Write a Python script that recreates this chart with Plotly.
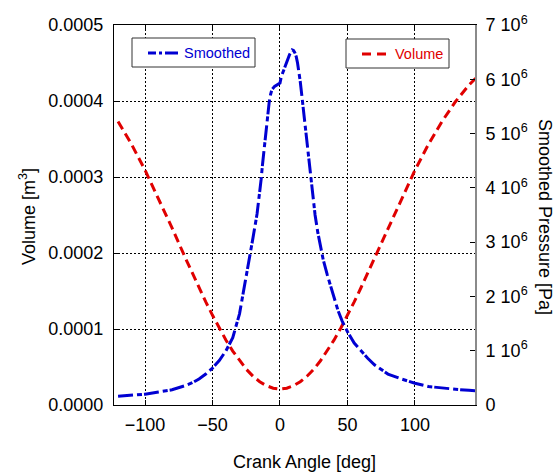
import plotly.graph_objects as go

# Crank angle grid [deg] and cylinder volume [m^3]
angle_vol = [-120, -110, -100, -90, -80, -70, -60, -55, -50, -45, -40, -35, -30, -25,
             -20, -15, -10, -5, 0, 5, 10, 15, 20, 25, 30, 35, 40, 45, 50, 55, 60,
             70, 80, 90, 100, 110, 120, 130, 140, 145]
volume = [3.73e-4, 3.43e-4, 3.09e-4, 2.72e-4, 2.33e-4, 1.93e-4, 1.54e-4, 1.357e-4,
          1.18e-4, 1.01e-4, 8.53e-5, 7.10e-5, 5.82e-5, 4.71e-5, 3.79e-5, 3.06e-5,
          2.53e-5, 2.21e-5, 2.10e-5, 2.21e-5, 2.53e-5, 3.06e-5, 3.79e-5, 4.71e-5,
          5.82e-5, 7.10e-5, 8.53e-5, 1.01e-4, 1.178e-4, 1.357e-4, 1.543e-4,
          1.932e-4, 2.33e-4, 2.72e-4, 3.09e-4, 3.43e-4, 3.73e-4, 3.99e-4, 4.21e-4,
          4.30e-4]

# Smoothed cylinder pressure [Pa]
angle_p = [-120, -110, -100, -90, -80, -70, -65, -60, -55, -50, -45, -40, -35, -30,
           -27, -25, -22, -20, -17, -15, -14, -13, -12, -11, -10, -9, -8, -7, -6,
           -4, -2, 0, 1, 3, 5, 7, 9, 10, 11, 12, 13, 14, 15, 16, 17, 18, 19, 20,
           22, 24, 26, 28, 30, 32, 35, 38, 40, 43, 46, 50, 55, 60, 65, 70, 75, 80,
           90, 100, 110, 120, 130, 140, 145]
pressure_mpa = [0.16, 0.18, 0.20, 0.24, 0.28, 0.36, 0.41, 0.48, 0.57, 0.68, 0.82,
                1.00, 1.24, 1.68, 2.08, 2.35, 2.75, 3.08, 3.52, 3.90, 4.15, 4.42,
                4.68, 4.92, 5.17, 5.40, 5.58, 5.72, 5.81, 5.87, 5.90, 5.93, 6.05,
                6.18, 6.32, 6.45, 6.54, 6.53, 6.49, 6.42, 6.30, 6.15, 5.96, 5.74,
                5.52, 5.30, 5.07, 4.86, 4.38, 3.92, 3.50, 3.18, 2.92, 2.68, 2.40,
                2.16, 1.98, 1.74, 1.55, 1.35, 1.14, 0.99, 0.86, 0.74, 0.65, 0.57,
                0.48, 0.40, 0.34, 0.31, 0.29, 0.27, 0.26]
pressure = [p * 1e6 for p in pressure_mpa]

x_ticks = [-100, -50, 0, 50, 100]
x_ticklabels = ["\u2212100", "\u221250", "0", "50", "100"]
v_ticks = [0, 1e-4, 2e-4, 3e-4, 4e-4, 5e-4]
p_ticks = [0, 1e6, 2e6, 3e6, 4e6, 5e6, 6e6, 7e6]
p_ticklabels = ["0"] + [f"{k} 10<sup>6</sup>" for k in range(1, 8)]

BLUE = "#0000d2"
RED = "#e00000"
FONT = "Liberation Sans, Arial, sans-serif"

W, H = 558, 476
L, R, T, B = 114, 475, 25, 405


def px(xp):
    return (xp - L) / (R - L)


def py(yp):
    return (B - yp) / (B - T)


fig = go.Figure()
fig.add_trace(go.Scatter(x=angle_vol, y=volume, mode="lines", name="Volume",
                         line=dict(color=RED, width=3, dash="9px,5px"),
                         yaxis="y"))
fig.add_trace(go.Scatter(x=angle_p, y=pressure, mode="lines", name="Smoothed",
                         line=dict(color=BLUE, width=3, dash="15px,4px,5px,2px"),
                         yaxis="y2"))

axis_font = dict(family=FONT, size=18, color="black")

fig.update_layout(
    width=W, height=H,
    margin=dict(l=L, r=W - R, t=T, b=H - B, pad=0),
    paper_bgcolor="white", plot_bgcolor="white",
    showlegend=False,
    font=axis_font,
    xaxis=dict(range=[-123, 144.5], tickvals=x_ticks, ticktext=x_ticklabels,
               ticks="inside", ticklen=5, tickcolor="black",
               showline=True, linecolor="black", linewidth=1, mirror="ticks",
               showgrid=True, gridcolor="black", gridwidth=1, griddash="2px,2px",
               zeroline=False, tickfont=axis_font, ticklabelstandoff=3),
    yaxis=dict(range=[0, 5e-4], tickvals=v_ticks, tickformat=".4f",
               ticks="inside", ticklen=5, tickcolor="black",
               showline=True, linecolor="black", linewidth=1,
               showgrid=True, gridcolor="black", gridwidth=1, griddash="2px,2px",
               zeroline=False, tickfont=axis_font, ticklabelstandoff=6),
    yaxis2=dict(range=[0, 7e6], tickvals=p_ticks, ticktext=p_ticklabels,
                overlaying="y", side="right",
                ticks="inside", ticklen=5, tickcolor="black",
                showline=True, linecolor="#8a8a8a", linewidth=2,
                showgrid=False, zeroline=False, tickfont=axis_font,
                ticklabelstandoff=5),
)

annotations = [
    dict(text="Crank Angle [deg]", x=px(304.5), y=py(462), showarrow=False,
         xanchor="center", yanchor="middle", font=axis_font),
    dict(text="Volume [m<sup>3</sup>]", x=px(27), y=py(217), textangle=-90,
         showarrow=False, xanchor="center", yanchor="middle", font=axis_font),
    dict(text="Smoothed Pressure [Pa]", x=px(545), y=py(217), textangle=90,
         showarrow=False, xanchor="center", yanchor="middle", font=axis_font),
    dict(text="Smoothed", x=px(182), y=py(53), showarrow=False,
         xanchor="left", yanchor="middle",
         font=dict(family=FONT, size=14.5, color=BLUE)),
    dict(text="Volume", x=px(393), y=py(54), showarrow=False,
         xanchor="left", yanchor="middle",
         font=dict(family=FONT, size=14.5, color=RED)),
]
for a in annotations:
    a.update(xref="paper", yref="paper")
fig.update_layout(annotations=annotations)

shapes = [
    # legend frames
    dict(type="rect", x0=px(132), x1=px(255), y0=py(67), y1=py(38),
         line=dict(color="#333333", width=1), fillcolor="white"),
    dict(type="rect", x0=px(346), x1=px(449), y0=py(68), y1=py(39),
         line=dict(color="#333333", width=1), fillcolor="white"),
    # legend line samples
    dict(type="line", x0=px(148), x1=px(178), y0=py(53), y1=py(53),
         line=dict(color=BLUE, width=3, dash="8px,3px,3px,3px,30px")),
    dict(type="line", x0=px(362), x1=px(388), y0=py(54), y1=py(54),
         line=dict(color=RED, width=3, dash="9px,6px")),
]
for s in shapes:
    s.update(xref="paper", yref="paper", layer="above")
fig.update_layout(shapes=shapes)

fig.write_html("out.html")
